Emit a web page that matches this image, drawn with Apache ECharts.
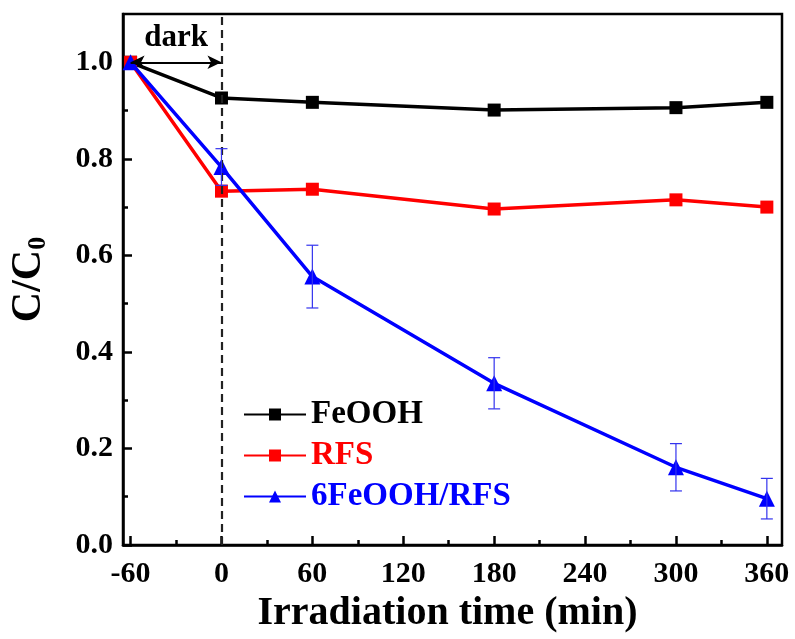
<!DOCTYPE html>
<html>
<head>
<meta charset="utf-8">
<script src="https://cdn.jsdelivr.net/npm/echarts@6/dist/echarts.min.js"></script>
<style>
html,body{margin:0;padding:0;background:#fff;}
#chart{width:795px;height:639px;}
</style>
</head>
<body>
<div id="chart"></div>
<script>
// ---- data ----
const times = [-60, 0, 60, 180, 300, 360];
const feooh = [1.0, 0.926, 0.917, 0.901, 0.906, 0.917];
const rfs = [1.0, 0.733, 0.737, 0.696, 0.715, 0.700];
const composite = [1.0, 0.783, 0.556, 0.335, 0.161, 0.096];
const compositeErr = [0, 0.038, 0.065, 0.053, 0.049, 0.042];
const xMajorTicks = [-60, 0, 60, 120, 180, 240, 300, 360];
const xMinorTicks = [-30, 30, 90, 150, 210, 270, 330];
const yMajorTicks = [0, 0.2, 0.4, 0.6, 0.8, 1.0];
const yMinorTicks = [0.1, 0.3, 0.5, 0.7, 0.9];
const seriesNames = ['FeOOH', 'RFS', '6FeOOH/RFS'];
const seriesColors = ['#000000', '#ff0000', '#0000ff'];
const darkStart = -60, darkEnd = 0, darkLevel = 1.0;

const FONT = "'Liberation Serif','Times New Roman',serif";
const pair = (xs, ys) => xs.map((x, i) => [x, ys[i]]);
const errData = times.map((t, i) => [t, composite[i] - compositeErr[i], composite[i] + compositeErr[i]]).filter((d, i) => compositeErr[i] > 0);

const chart = echarts.init(document.getElementById('chart'), null, {renderer: 'canvas'});

const option = {
  backgroundColor: '#ffffff',
  animation: false,
  grid: {left: 123, right: 13, top: 14, bottom: 94, containLabel: false, outerBoundsMode: 'none',
    show: true, borderColor: '#000', borderWidth: 2.5, backgroundColor: 'transparent'},
  legend: {
    orient: 'vertical', left: 238, top: 393, itemGap: 8, itemWidth: 62, itemHeight: 15,
    textStyle: {fontFamily: FONT, fontWeight: 'bold', fontSize: 33},
    data: seriesNames.map((n, i) => ({name: n, textStyle: {color: seriesColors[i]}}))
  },
  xAxis: [{
    type: 'value', min: -65, max: 370,
    name: 'Irradiation time (min)', nameLocation: 'middle', nameGap: 44,
    nameTextStyle: {fontFamily: FONT, fontWeight: 'bold', fontSize: 40, color: '#000', padding: [0, 10, 0, 0]},
    axisLine: {show: true, onZero: false, lineStyle: {color: '#000', width: 2.5}},
    axisTick: {show: true, inside: true, length: 9, lineStyle: {width: 2.5, color: '#000'}, customValues: xMajorTicks},
    axisLabel: {customValues: xMajorTicks, fontFamily: FONT, fontWeight: 'bold', fontSize: 30, color: '#000', margin: 14},
    splitLine: {show: false}
  }, {
    type: 'value', min: -65, max: 370, position: 'bottom',
    axisLine: {show: false, onZero: false},
    axisTick: {show: true, inside: true, length: 5, lineStyle: {width: 2.5, color: '#000'}, customValues: xMinorTicks},
    axisLabel: {show: false}, splitLine: {show: false}
  }],
  yAxis: [{
    type: 'value', min: 0, max: 1.1,
    name: 'C/C{sub|0}', nameLocation: 'middle', nameGap: 72, nameRotate: 90,
    nameTextStyle: {fontFamily: FONT, fontWeight: 'bold', fontSize: 42, color: '#000',
      rich: {sub: {fontFamily: FONT, fontWeight: 'bold', fontSize: 26, color: '#000', padding: [18, 0, 0, 0]}}},
    axisLine: {show: true, onZero: false, lineStyle: {color: '#000', width: 2.5}},
    axisTick: {show: true, inside: true, length: 9, lineStyle: {width: 2.5, color: '#000'}, customValues: yMajorTicks},
    axisLabel: {customValues: yMajorTicks, formatter: v => v.toFixed(1), fontFamily: FONT, fontWeight: 'bold', fontSize: 30, color: '#000', margin: 10},
    splitLine: {show: false}
  }, {
    type: 'value', min: 0, max: 1.1, position: 'left',
    axisLine: {show: false, onZero: false},
    axisTick: {show: true, inside: true, length: 5, lineStyle: {width: 2.5, color: '#000'}, customValues: yMinorTicks},
    axisLabel: {show: false}, splitLine: {show: false}
  }],
  series: [
    {
      name: seriesNames[0], type: 'line', data: pair(times, feooh),
      symbol: 'rect', symbolSize: 13, z: 3,
      lineStyle: {color: seriesColors[0], width: 3.5}, itemStyle: {color: seriesColors[0]},
      markLine: {
        silent: true, symbol: ['arrow', 'arrow'], symbolSize: [10, 14],
        lineStyle: {color: '#000', width: 2, type: 'solid'},
        label: {show: true, formatter: 'dark', position: 'insideMiddleTop', distance: 9,
          fontFamily: FONT, fontWeight: 'bold', fontSize: 31, color: '#000'},
        data: [[{coord: [darkStart, darkLevel]}, {coord: [darkEnd, darkLevel]}]]
      }
    },
    {
      name: seriesNames[1], type: 'line', data: pair(times, rfs),
      symbol: 'rect', symbolSize: 13, z: 3,
      lineStyle: {color: seriesColors[1], width: 3.5}, itemStyle: {color: seriesColors[1]},
      markLine: {
        silent: true, symbol: 'none',
        lineStyle: {color: '#222', width: 2.2, type: [8, 5]},
        label: {show: false},
        data: [{xAxis: darkEnd}]
      }
    },
    {
      name: seriesNames[2], type: 'line', data: pair(times, composite),
      symbol: 'triangle', symbolSize: 16, z: 4,
      lineStyle: {color: seriesColors[2], width: 3.5}, itemStyle: {color: seriesColors[2]}
    },
    {
      name: 'err', type: 'custom', data: errData, z: 5, silent: true,
      renderItem: (params, api) => {
        const x = api.value(0);
        const lo = api.coord([x, api.value(1)]);
        const hi = api.coord([x, api.value(2)]);
        const cap = 6;
        const st = {stroke: '#3333ee', lineWidth: 1.2};
        return {type: 'group', children: [
          {type: 'line', shape: {x1: lo[0], y1: lo[1], x2: hi[0], y2: hi[1]}, style: st},
          {type: 'line', shape: {x1: lo[0] - cap, y1: lo[1], x2: lo[0] + cap, y2: lo[1]}, style: st},
          {type: 'line', shape: {x1: hi[0] - cap, y1: hi[1], x2: hi[0] + cap, y2: hi[1]}, style: st}
        ]};
      }
    }
  ]
};
chart.setOption(option);
</script>
</body>
</html>
